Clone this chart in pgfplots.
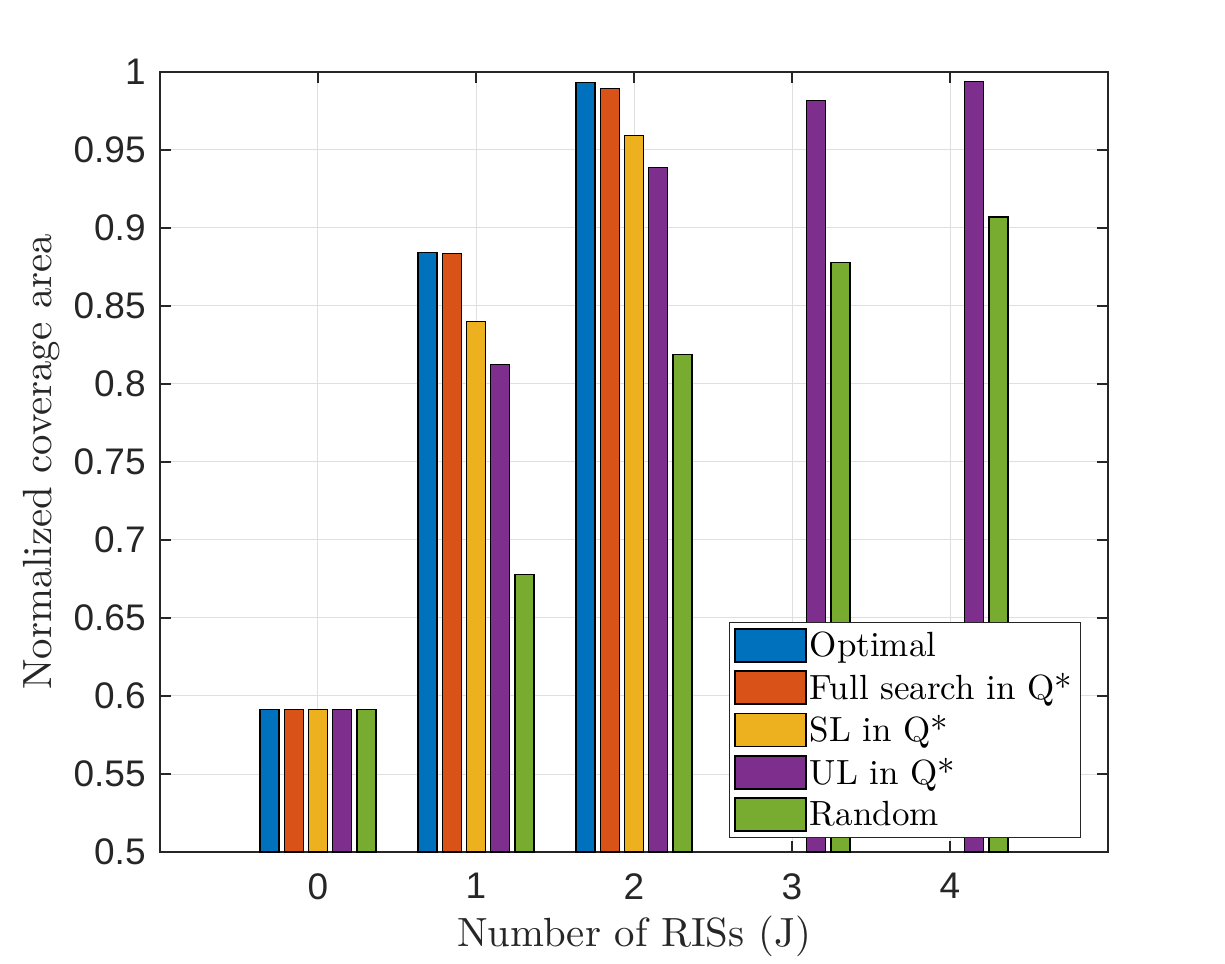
\documentclass[border=0pt]{standalone}
\usepackage{fontspec}
\setmainfont{lmroman10-regular}[Extension=.otf]
\usepackage{pgfplots}
\pgfplotsset{compat=1.18}
\newfontfamily\arialfont{Liberation Sans}
\definecolor{c1}{HTML}{0072BD}
\definecolor{c2}{HTML}{D95319}
\definecolor{c3}{HTML}{EDB120}
\definecolor{c4}{HTML}{7E2F8E}
\definecolor{c5}{HTML}{77AC30}
\definecolor{axc}{HTML}{262626}
\definecolor{gridc}{HTML}{DFDFDF}
\pgfplotsset{
  mybar/.style={ybar, bar width=0.12, draw=black, line width=0.7pt,
    legend image code/.code={\draw[##1, line width=0.7pt] (0pt,-8.25pt) rectangle (35.5pt,8.25pt);}},
}
\begin{document}
\begin{tikzpicture}
\fill[white] (-80pt,-55.5pt) rectangle (532.5pt,426pt);
\path[use as bounding box] (-80pt,-55.5pt) rectangle (532.5pt,426pt);
\begin{axis}[
  scale only axis, width=474pt, height=390pt,
  xmin=-1, xmax=5, ymin=0.5, ymax=1,
  xtick={0,1,2,3,4}, xticklabels={0,1,2,3,4},
  ytick={0.5,0.55,0.6,0.65,0.7,0.75,0.8,0.85,0.9,0.95,1},
  yticklabels={0.5,0.55,0.6,0.65,0.7,0.75,0.8,0.85,0.9,0.95,1},
  tick align=inside, tick pos=both,
  major tick length=5.3pt,
  tick style={axc, line width=0.75pt},
  axis line style={axc, line width=0.8pt},
  grid=major, major grid style={gridc, line width=0.5pt},
  tick label style={font=\arialfont\fontsize{18.5}{18.5}\selectfont, text=axc},
  yticklabel style={inner sep=0pt, anchor=east, xshift=-7pt},
  xticklabel style={inner sep=0pt, anchor=north, yshift=-10.5pt},
  xlabel={Number of RISs (J)}, ylabel={Normalized coverage area},
  every axis x label/.style={at={([yshift=-31.6pt]axis description cs:0.5,0)}, anchor=north, inner sep=0pt, font=\fontsize{20.4}{24}\selectfont, text=axc},
  every axis y label/.style={at={([xshift=-50pt]axis description cs:0,0.5)}, anchor=south, rotate=90, inner sep=0pt, font=\fontsize{20.4}{24}\selectfont, text=axc},
  legend style={at={(axis description cs:0.6002,0.2949)}, anchor=north west, draw=axc, line width=0.5pt, fill=white, font=\fontsize{17.5}{20}\selectfont, inner xsep=2.5pt, inner ysep=3pt, nodes={inner sep=1.5pt}, row sep=3.6pt},
  legend cell align=left,
]
\addplot[mybar, fill=c1, bar shift=-0.306] coordinates {(0,0.5915) (1,0.8844) (2,0.9934)};
\addplot[mybar, fill=c2, bar shift=-0.153] coordinates {(0,0.5915) (1,0.8838) (2,0.9895)};
\addplot[mybar, fill=c3, bar shift=0] coordinates {(0,0.5915) (1,0.8400) (2,0.9594)};
\addplot[mybar, fill=c4, bar shift=0.153] coordinates {(0,0.5915) (1,0.8126) (2,0.9389) (3,0.9818) (4,0.9940)};
\addplot[mybar, fill=c5, bar shift=0.306] coordinates {(0,0.5915) (1,0.6780) (2,0.8190) (3,0.8780) (4,0.9070)};
\legend{Optimal, Full search in Q*, SL in Q*, UL in Q*, Random}
\end{axis}
\end{tikzpicture}
\end{document}
